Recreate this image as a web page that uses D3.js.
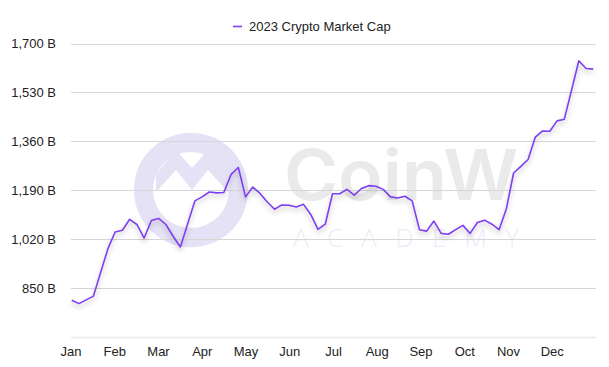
<!DOCTYPE html>
<html>
<head>
<meta charset="utf-8">
<script src="https://cdn.jsdelivr.net/npm/d3@7"></script>
<style>
  html, body { margin: 0; padding: 0; background: #ffffff; }
  svg { display: block; font-family: "Liberation Sans", Arial, Helvetica, sans-serif; }
</style>
</head>
<body>
<svg id="chart" width="609" height="367"></svg>
<script>
// ---- data ----
const seriesName = "2023 Crypto Market Cap";
const months = ["Jan","Feb","Mar","Apr","May","Jun","Jul","Aug","Sep","Oct","Nov","Dec"];
const yTicks = [850, 1020, 1190, 1360, 1530, 1700];
const yMin = 680;
// market cap, billions USD (roughly every 5 days)
const marketCap = [
  808, 796, 809, 822, 905, 987, 1045, 1051, 1089, 1071,
  1024, 1085, 1092, 1071, 1030, 993, 1073, 1153, 1167, 1184,
  1181, 1182, 1245, 1269, 1167, 1201, 1179, 1149, 1124, 1139,
  1138, 1132, 1141, 1106, 1054, 1072, 1178, 1178, 1193, 1173,
  1196, 1206, 1204, 1193, 1167, 1163, 1169, 1153, 1053, 1048,
  1083, 1040, 1037, 1053, 1068, 1040, 1078, 1086, 1072, 1053,
  1126, 1250, 1273, 1297, 1375, 1396, 1395, 1431, 1437, 1538,
  1640, 1613, 1611
];

// ---- layout ----
const svg = d3.select("#chart");
const plotLeft = 71, plotRight = 596, plotTop = 43.5, plotBottom = 337;

const xMonth = d3.scaleBand().domain(months).range([plotLeft, plotRight]).paddingInner(0).paddingOuter(0);
const xData = d3.scaleLinear().domain([0, marketCap.length - 1]).range([plotLeft + 0.7, plotRight - 2.7]);
const y = d3.scaleLinear().domain([yMin, d3.max(yTicks)]).range([plotBottom, plotTop]);
const fmt = v => d3.format(",")(v) + " B";

// defs: line shadow
const defs = svg.append("defs");
const f = defs.append("filter").attr("id", "shadow").attr("x", "-10%").attr("y", "-20%").attr("width", "120%").attr("height", "150%");
f.append("feDropShadow").attr("dx", 0).attr("dy", 3).attr("stdDeviation", 2.5)
  .attr("flood-color", "#000").attr("flood-opacity", 0.28);

// ---- watermark ----
const wm = svg.append("g").attr("class", "watermark");
wm.append("path")
  .attr("d", d3.arc()({innerRadius: 38, outerRadius: 57, startAngle: 0.35 * Math.PI, endAngle: 2.62 * Math.PI}))
  .attr("transform", "translate(191,190)")
  .attr("fill", "#e6e2f6");
wm.append("path")
  .attr("d", "M156,174 L176,150 L192,168 L208,150 L228,174 L228,192 L208,170 L192,190 L176,170 L156,192 Z")
  .attr("fill", "#e6e2f6");
wm.append("text").attr("x", 284).attr("y", 200)
  .attr("font-size", 70).attr("font-weight", 600).attr("fill", "#eaeaea")
  .attr("font-family", "Inter, 'Liberation Sans', Arial, sans-serif")
  .attr("textLength", 234).attr("lengthAdjust", "spacingAndGlyphs")
  .text("CoinW");
wm.append("text").attr("x", 293).attr("y", 247)
  .attr("font-size", 26).attr("font-weight", 300).attr("fill", "#eeebfa")
  .attr("font-family", "'Open Sans', 'Liberation Sans', sans-serif")
  .attr("textLength", 226).attr("lengthAdjust", "spacing")
  .text("ACADEMY");

// ---- gridlines ----
svg.append("g").selectAll("line").data(yTicks).join("line")
  .attr("x1", plotLeft).attr("x2", plotRight)
  .attr("y1", d => Math.round(y(d)) + 0.5).attr("y2", d => Math.round(y(d)) + 0.5)
  .attr("stroke", "#d6d6d6").attr("stroke-width", 1);

// baseline
svg.append("line")
  .attr("x1", plotLeft).attr("x2", plotRight)
  .attr("y1", Math.round(y(yMin)) + 0.5).attr("y2", Math.round(y(yMin)) + 0.5)
  .attr("stroke", "#eaeaea").attr("stroke-width", 1.5);

// y labels
svg.append("g").selectAll("text").data(yTicks).join("text")
  .attr("x", 56).attr("y", d => y(d))
  .attr("dy", "0.35em").attr("text-anchor", "end")
  .attr("font-size", 13).attr("fill", "#222")
  .text(fmt);

// x labels
svg.append("g").selectAll("text").data(months).join("text")
  .attr("x", d => xMonth(d)).attr("y", 356)
  .attr("text-anchor", "middle")
  .attr("font-size", 13).attr("fill", "#222")
  .text(d => d);

// ---- line ----
const line = d3.line().x((d, i) => xData(i)).y(d => y(d));
svg.append("path").datum(marketCap)
  .attr("d", line)
  .attr("fill", "none")
  .attr("stroke", "#7d3ff0")
  .attr("stroke-width", 1.6)
  .attr("stroke-linejoin", "round")
  .attr("filter", "url(#shadow)");

// ---- legend ----
const lg = svg.append("g");
lg.append("line").attr("x1", 233).attr("x2", 242).attr("y1", 26.5).attr("y2", 26.5)
  .attr("stroke", "#7d3ff0").attr("stroke-width", 1.6);
lg.append("text").attr("x", 249).attr("y", 26).attr("dy", "0.35em")
  .attr("font-size", 13).attr("fill", "#222").text(seriesName);
</script>
</body>
</html>
